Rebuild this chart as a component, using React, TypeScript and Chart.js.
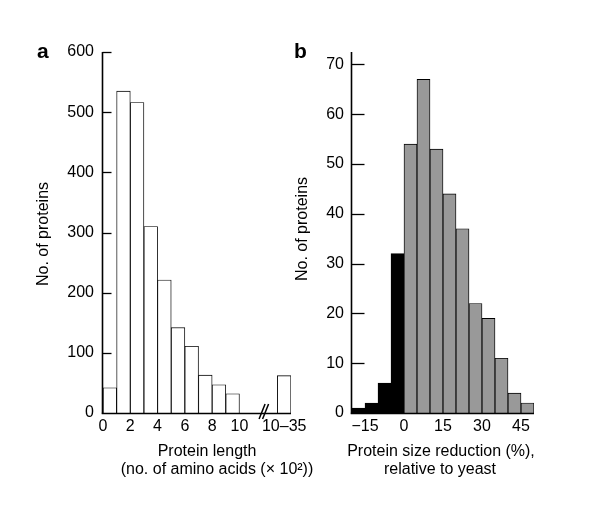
import React, { useEffect, useRef } from "react";
import { Chart, registerables } from "chart.js";

Chart.register(...registerables);

// ---------- Panel a: protein length distribution ----------
const lengthBinCentersA = [0.5, 1.5, 2.5, 3.5, 4.5, 5.5, 6.5, 7.5, 8.5, 9.5]; // x 10^2 amino acids
const lengthCountsA = [42, 535, 516, 310, 221, 142, 111, 63, 47, 32];
const longBinLabelA = "10\u201335";
const longBinCountA = 62;
const xTickValuesA = [0, 2, 4, 6, 8, 10];
const yTickValuesA = [0, 100, 200, 300, 400, 500, 600];

// ---------- Panel b: protein size reduction relative to yeast ----------
const reductionBinCentersB = [-17.5, -12.5, -7.5, -2.5, 2.5, 7.5, 12.5, 17.5, 22.5, 27.5, 32.5, 37.5, 42.5, 47.5];
const reductionCountsB = [1, 2, 6, 32, 54, 67, 53, 44, 37, 22, 19, 11, 4, 2];
const xTickValuesB = [-15, 0, 15, 30, 45];
const yTickValuesB = [0, 10, 20, 30, 40, 50, 60, 70];

// layout constants (axis placement, not data)
const LONG_BIN_POS = 13.28; // where the 10–35 bin sits after the axis break
const BREAK_POS = 11.77;
const FONT = '"Liberation Sans", Arial, Helvetica, sans-serif';

const fmtNum = (v: number) => (v < 0 ? "\u2212" + Math.abs(v) : String(v));

function drawAxesAndTicks(chart: any, values: number[], len: number) {
  const ctx = chart.ctx;
  const y = chart.scales.y;
  const { left, right, top, bottom } = chart.chartArea;
  const by = Math.round(bottom) + 0.5;
  const lx = Math.round(left) - 0.5;
  ctx.save();
  ctx.strokeStyle = "#000";
  ctx.lineWidth = 1.6;
  ctx.beginPath();
  ctx.moveTo(lx - 0.8, by);
  ctx.lineTo(Math.round(right), by);
  ctx.stroke();
  ctx.beginPath();
  ctx.moveTo(lx, by);
  ctx.lineTo(lx, Math.round(top));
  ctx.stroke();
  ctx.lineWidth = 1.3;
  values.forEach((v) => {
    if (v === 0) return;
    const py = Math.round(y.getPixelForValue(v)) + 0.5;
    ctx.beginPath();
    ctx.moveTo(lx, py);
    ctx.lineTo(lx + len, py);
    ctx.stroke();
  });
  ctx.restore();
}

const decorA = {
  id: "decorA",
  afterDraw(chart: any) {
    drawAxesAndTicks(chart, yTickValuesA, 9);
    const ctx = chart.ctx;
    const axisY = Math.round(chart.chartArea.bottom) + 0.5;
    const bx = chart.scales.x.getPixelForValue(BREAK_POS);
    ctx.save();
    // axis break marks
    ctx.strokeStyle = "#000";
    ctx.lineWidth = 1.5;
    for (let i = 0; i < 2; i++) {
      ctx.beginPath();
      ctx.moveTo(bx - 4.5 + i * 3.5, axisY + 5.5);
      ctx.lineTo(bx + 1.5 + i * 3.5, axisY - 9.5);
      ctx.stroke();
    }
    ctx.fillStyle = "#000";
    ctx.font = "bold 21px " + FONT;
    ctx.textAlign = "left";
    ctx.textBaseline = "alphabetic";
    ctx.fillText("a", 37, 58);
    ctx.font = "16px " + FONT;
    ctx.textAlign = "center";
    ctx.fillText("Protein length", 207, 456);
    ctx.fillText("(no. of amino acids (\u00d7 10\u00b2))", 217, 474);
    ctx.translate(44, 234);
    ctx.rotate(-Math.PI / 2);
    ctx.textBaseline = "middle";
    ctx.fillText("No. of proteins", 0, 0);
    ctx.restore();
  },
};

const decorB = {
  id: "decorB",
  afterDraw(chart: any) {
    drawAxesAndTicks(chart, yTickValuesB, 13);
    const ctx = chart.ctx;
    ctx.save();
    ctx.fillStyle = "#000";
    ctx.font = "bold 21px " + FONT;
    ctx.textAlign = "left";
    ctx.textBaseline = "alphabetic";
    ctx.fillText("b", 294, 58);
    ctx.font = "16px " + FONT;
    ctx.textAlign = "center";
    ctx.fillText("Protein size reduction (%),", 441, 456);
    ctx.fillText("relative to yeast", 440, 474);
    ctx.translate(303, 229);
    ctx.rotate(-Math.PI / 2);
    ctx.textBaseline = "middle";
    ctx.fillText("No. of proteins", 0, 0);
    ctx.restore();
  },
};

const tickFont = { family: FONT, size: 16 };
const axisBorder = { display: false };

export default function App() {
  const refA = useRef<HTMLCanvasElement | null>(null);
  const refB = useRef<HTMLCanvasElement | null>(null);

  useEffect(() => {
    const dataA = [
      ...lengthBinCentersA.map((x, i) => ({ x, y: lengthCountsA[i] })),
      { x: LONG_BIN_POS, y: longBinCountA },
    ];
    const chartA = new Chart(refA.current as HTMLCanvasElement, {
      type: "bar",
      data: {
        datasets: [
          {
            data: dataA as any,
            backgroundColor: "#ffffff",
            borderColor: "#000000",
            borderWidth: 0.9,
            borderSkipped: "bottom",
            barPercentage: 1,
            categoryPercentage: 1,
          },
        ],
      },
      options: {
        responsive: false,
        animation: false,
        devicePixelRatio: 1,
        layout: { padding: { left: 0, top: 52, right: 309, bottom: 0 } },
        plugins: { legend: { display: false }, tooltip: { enabled: false } },
        scales: {
          x: {
            type: "linear",
            offset: false,
            min: 0,
            max: 13.78,
            grid: { display: false, drawTicks: false },
            border: axisBorder,
            afterBuildTicks: (s: any) => {
              s.ticks = [...xTickValuesA, LONG_BIN_POS].map((value) => ({ value }));
            },
            afterFit: (s: any) => {
              s.height = 107;
            },
            ticks: {
              color: "#000",
              font: tickFont,
              padding: 4,
              autoSkip: false,
              maxRotation: 0,
              callback: (v: any) => (v === LONG_BIN_POS ? longBinLabelA : fmtNum(v)),
            },
          },
          y: {
            min: 0,
            max: 600,
            grid: { display: false, drawTicks: false },
            border: axisBorder,
            afterBuildTicks: (s: any) => {
              s.ticks = yTickValuesA.map((value) => ({ value }));
            },
            afterFit: (s: any) => {
              s.width = 103;
            },
            ticks: { color: "#000", font: tickFont, padding: 9, callback: (v: any) => fmtNum(v) },
          },
        },
      },
      plugins: [decorA],
    });

    const dataB = reductionBinCentersB.map((x, i) => ({ x, y: reductionCountsB[i] }));
    const chartB = new Chart(refB.current as HTMLCanvasElement, {
      type: "bar",
      data: {
        datasets: [
          {
            data: dataB as any,
            backgroundColor: reductionBinCentersB.map((x) => (x < 0 ? "#000000" : "#999999")),
            borderColor: "#000000",
            borderWidth: 0.9,
            borderSkipped: "bottom",
            barPercentage: 1,
            categoryPercentage: 1,
          },
        ],
      },
      options: {
        responsive: false,
        animation: false,
        devicePixelRatio: 1,
        layout: { padding: { left: 280, top: 52, right: 66, bottom: 0 } },
        plugins: { legend: { display: false }, tooltip: { enabled: false } },
        scales: {
          x: {
            type: "linear",
            offset: false,
            min: -20,
            max: 50,
            grid: { display: false, drawTicks: false },
            border: axisBorder,
            afterBuildTicks: (s: any) => {
              s.ticks = xTickValuesB.map((value) => ({ value }));
            },
            afterFit: (s: any) => {
              s.height = 107;
            },
            ticks: {
              color: "#000",
              font: tickFont,
              padding: 4,
              autoSkip: false,
              maxRotation: 0,
              callback: (v: any) => fmtNum(v),
            },
          },
          y: {
            min: 0,
            max: 72.5,
            grid: { display: false, drawTicks: false },
            border: axisBorder,
            afterBuildTicks: (s: any) => {
              s.ticks = yTickValuesB.map((value) => ({ value }));
            },
            afterFit: (s: any) => {
              s.width = 72;
            },
            ticks: { color: "#000", font: tickFont, padding: 8, callback: (v: any) => fmtNum(v) },
          },
        },
      },
      plugins: [decorB],
    });

    return () => {
      chartA.destroy();
      chartB.destroy();
    };
  }, []);

  return (
    <div style={{ position: "fixed", left: 0, top: 0, width: 600, height: 520, background: "#fff" }}>
      <canvas ref={refB} width={600} height={520} style={{ position: "absolute", left: 0, top: 0 }} />
      <canvas ref={refA} width={600} height={520} style={{ position: "absolute", left: 0, top: 0 }} />
    </div>
  );
}
